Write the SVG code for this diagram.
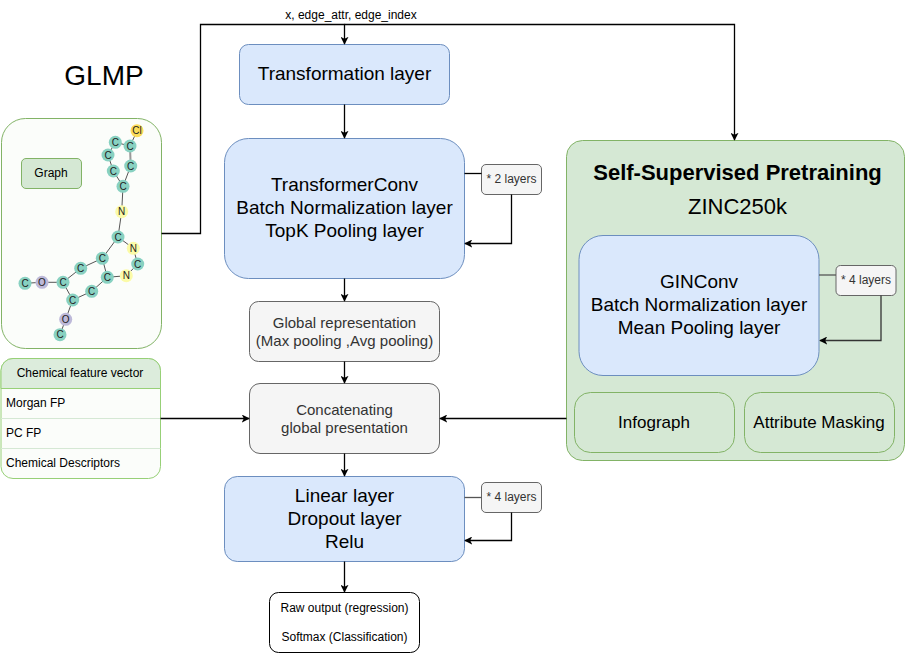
<svg xmlns="http://www.w3.org/2000/svg" width="906" height="653" viewBox="0 0 906 653">
<defs>
<marker id="arrow" viewBox="0 0 10 10" refX="9" refY="5" markerWidth="8" markerHeight="8" markerUnits="userSpaceOnUse" orient="auto"><path d="M0 0L10 5L0 10L2.500 5Z" fill="#000"/></marker>
</defs>
<style>
text{font-family:"Liberation Sans",Arial,sans-serif;text-anchor:middle;fill:#000}
.blue{fill:#dae8fc;stroke:#6c8ebf}
.gray{fill:#f5f5f5;stroke:#666}
.green{fill:#d5e8d4;stroke:#82b366}
.t18{font-size:19px}
.t14{font-size:15px}
.t11{font-size:12px}
.g{fill:#333}
.conn path{fill:none;stroke:#000;stroke-width:1.3;marker-end:url(#arrow)}
.conn path.plain{marker-end:none}
.bond line{stroke:#555;stroke-width:1}
.atom text{font-size:10px;fill:#222}
.c{fill:#88d1c1}
.n{fill:#fbfba8}
.o{fill:#bdb9d9}
.cl{fill:#fbdc5a}
</style>
<rect width="906" height="653" fill="#fff"/>
<text id="title" x="104" y="85" font-size="28">GLMP</text>
<text id="edgeLabel" x="351" y="19" class="t11">x, edge_attr, edge_index</text>

<g id="graph">
<rect x="1.500" y="118.500" width="160" height="230" rx="24" fill="#fbfdfa" stroke="#82b366"/>
<g class="bond">
<line x1="137" y1="131" x2="130" y2="146"/><line x1="130" y1="146" x2="115.300" y2="142.300"/><line x1="115.300" y1="142.300" x2="108" y2="155"/><line x1="108" y1="155" x2="113.300" y2="171"/><line x1="113.300" y1="171" x2="123" y2="186.300"/><line x1="130" y1="146" x2="130.700" y2="166" style="stroke:#999;stroke-width:2"/><line x1="130.700" y1="166" x2="123" y2="186.300"/><line x1="123" y1="186.300" x2="121.700" y2="211.700"/><line x1="121.700" y1="211.700" x2="118" y2="237"/><line x1="118" y1="237" x2="133.300" y2="248.300"/><line x1="133.300" y1="248.300" x2="137.700" y2="264"/><line x1="137.700" y1="264" x2="126.300" y2="275.700"/><line x1="126.300" y1="275.700" x2="107.300" y2="277.300"/><line x1="107.300" y1="277.300" x2="102.300" y2="258.300"/><line x1="118" y1="237" x2="102.300" y2="258.300"/><line x1="102.300" y1="258.300" x2="80.700" y2="268.300"/><line x1="80.700" y1="268.300" x2="63" y2="282.300"/><line x1="63" y1="282.300" x2="42" y2="282.300"/><line x1="42" y1="282.300" x2="25" y2="283.300"/><line x1="63" y1="282.300" x2="72.700" y2="300"/><line x1="72.700" y1="300" x2="91.700" y2="291.300"/><line x1="91.700" y1="291.300" x2="107.300" y2="277.300"/><line x1="72.700" y1="300" x2="65.700" y2="319.300"/><line x1="65.700" y1="319.300" x2="60" y2="334.700"/>
</g>
<g class="atom">
<circle class="cl" cx="137" cy="130.700" r="6.500"/><text x="137" y="134.300">Cl</text>
<circle class="c" cx="130" cy="146" r="6.500"/><text x="130" y="149.600">C</text>
<circle class="c" cx="115.300" cy="142.300" r="6.500"/><text x="115.300" y="145.900">C</text>
<circle class="c" cx="108" cy="155" r="6.500"/><text x="108" y="158.600">C</text>
<circle class="c" cx="113.300" cy="171" r="6.500"/><text x="113.300" y="174.600">C</text>
<circle class="c" cx="130.700" cy="166" r="6.500"/><text x="130.700" y="169.600">C</text>
<circle class="c" cx="123" cy="186.300" r="6.500"/><text x="123" y="189.900">C</text>
<circle class="n" cx="121.700" cy="211.700" r="6.500"/><text x="121.700" y="215.300">N</text>
<circle class="c" cx="118" cy="237" r="6.500"/><text x="118" y="240.600">C</text>
<circle class="n" cx="133.300" cy="248.300" r="6.500"/><text x="133.300" y="251.900">N</text>
<circle class="c" cx="137.700" cy="264" r="6.500"/><text x="137.700" y="267.600">C</text>
<circle class="n" cx="126.300" cy="275.700" r="6.500"/><text x="126.300" y="279.300">N</text>
<circle class="c" cx="107.300" cy="277.300" r="6.500"/><text x="107.300" y="280.900">C</text>
<circle class="c" cx="102.300" cy="258.300" r="6.500"/><text x="102.300" y="261.900">C</text>
<circle class="c" cx="80.700" cy="268.300" r="6.500"/><text x="80.700" y="271.900">C</text>
<circle class="c" cx="63" cy="282.300" r="6.500"/><text x="63" y="285.900">C</text>
<circle class="o" cx="42" cy="282.300" r="6.500"/><text x="42" y="285.900">O</text>
<circle class="c" cx="25" cy="283.300" r="6.500"/><text x="25" y="286.900">C</text>
<circle class="c" cx="72.700" cy="300" r="6.500"/><text x="72.700" y="303.600">C</text>
<circle class="c" cx="91.700" cy="291.300" r="6.500"/><text x="91.700" y="294.900">C</text>
<circle class="o" cx="65.700" cy="319.300" r="6.500"/><text x="65.700" y="322.900">O</text>
<circle class="c" cx="60" cy="334.700" r="6.500"/><text x="60" y="338.300">C</text>
</g>
</g>
<g id="graphLabel"><rect x="21.500" y="158.500" width="60" height="30" rx="4.500" class="green"/><text x="51" y="177" class="t11">Graph</text></g>

<g id="featureVector">
<rect x="1" y="358.500" width="159.500" height="120" rx="12" fill="#fbfdfa" stroke="#97d077"/>
<path d="M1 388.500V370.500a12 12 0 0 1 12-12H148.500a12 12 0 0 1 12 12V388.500Z" fill="#dcecdc" stroke="#97d077"/>
<path d="M1 418.500H160.500M1 448.500H160.500" stroke="#d5e8d4" fill="none"/>
<text x="80" y="377" class="t11">Chemical feature vector</text>
<text x="6" y="407" class="t11" style="text-anchor:start">Morgan FP</text>
<text x="6" y="437" class="t11" style="text-anchor:start">PC FP</text>
<text x="6" y="467" class="t11" style="text-anchor:start">Chemical Descriptors</text>
</g>

<g id="transformation"><rect x="239.500" y="44.500" width="210" height="60" rx="9" class="blue"/><text x="344.500" y="80" class="t18">Transformation layer</text></g>
<g id="transformerConv"><rect x="224.500" y="138.500" width="240" height="140" rx="24" class="blue"/><text x="344.500" y="191" class="t18">TransformerConv</text><text x="344.500" y="214" class="t18">Batch Normalization layer</text><text x="344.500" y="237" class="t18">TopK Pooling layer</text></g>
<g id="globalRep"><rect x="249.500" y="301.500" width="190" height="60" rx="9" class="gray"/><text x="344.500" y="328" class="t14 g">Global representation</text><text x="344.500" y="346" class="t14 g">(Max pooling ,Avg pooling)</text></g>
<g id="concat"><rect x="249.500" y="383.500" width="190" height="70" rx="10.500" class="gray"/><text x="344.500" y="415" class="t14 g">Concatenating</text><text x="344.500" y="433" class="t14 g">global presentation</text></g>
<g id="linear"><rect x="224.500" y="476.500" width="240" height="85" rx="12.750" class="blue"/><text x="344.500" y="502" class="t18">Linear layer</text><text x="344.500" y="525" class="t18">Dropout layer</text><text x="344.500" y="548" class="t18">Relu</text></g>
<g id="output"><rect x="269.500" y="592.500" width="150" height="60" rx="9" fill="#fff" stroke="#000"/><text x="344.500" y="612" class="t11">Raw output (regression)</text><text x="344.500" y="641" class="t11">Softmax (Classification)</text></g>

<g id="pretraining"><rect x="566.500" y="140.500" width="338" height="320" rx="16" class="green"/><text x="737.500" y="180" font-size="22" font-weight="bold">Self-Supervised Pretraining</text><text x="737.500" y="214" font-size="22">ZINC250k</text></g>

<g id="layers2"><rect x="481.500" y="164.500" width="60" height="30" rx="4.500" class="gray"/><text x="511.500" y="183" class="t11 g">* 2 layers</text></g>
<g id="layers4a"><rect x="836" y="265.500" width="60" height="30" rx="4.500" class="gray"/><text x="866" y="284" class="t11 g">* 4 layers</text></g>
<g id="layers4b"><rect x="481.500" y="482.500" width="60" height="30" rx="4.500" class="gray"/><text x="511.500" y="501" class="t11 g">* 4 layers</text></g>

<g id="ginConv"><rect x="579" y="235.500" width="240" height="140" rx="24" class="blue"/><text x="699" y="288" class="t18">GINConv</text><text x="699" y="311" class="t18">Batch Normalization layer</text><text x="699" y="334" class="t18">Mean Pooling layer</text></g>
<g id="infograph"><rect x="574.500" y="392.500" width="160" height="60" rx="16" class="green"/><text x="654" y="428" font-size="17">Infograph</text></g>
<g id="attrMask"><rect x="744.500" y="392.500" width="150" height="60" rx="16" class="green"/><text x="819" y="428" font-size="17">Attribute Masking</text></g>

<g id="connectors" class="conn">
<path d="M161.500 233.500H200.500V24.500H344.500V44"/>
<path d="M344.500 24.500H734.500V140"/>
<path d="M344.500 104.500V138"/>
<path d="M344.500 278.500V301"/>
<path d="M344.500 361.500V383"/>
<path d="M344.500 453.500V476"/>
<path d="M344.500 561.500V592"/>
<path d="M160.500 418.500H249"/>
<path d="M566.500 418.500H440"/>
<path class="plain" d="M464.500 173.500H481.500"/>
<path d="M511.500 194.500V243.500H465"/>
<path class="plain" d="M819 275H836" style="stroke:#555"/>
<path d="M881 295.500V340.500H820" style="stroke:#333"/>
<path class="plain" d="M464.500 497.500H481.500" style="stroke:#555"/>
<path d="M511.500 512.500V540.500H465"/>
</g>
</svg>
